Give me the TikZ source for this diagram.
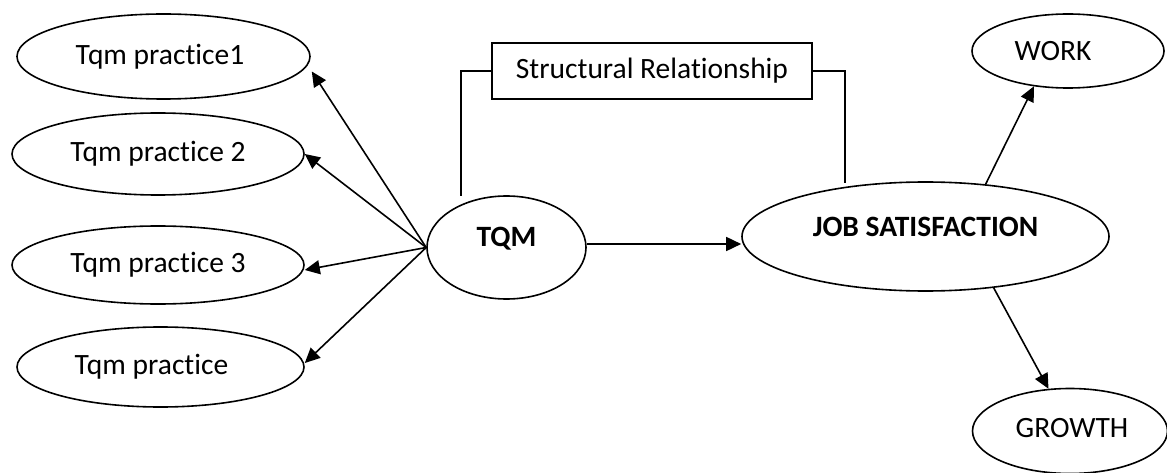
\documentclass[tikz,border=0pt]{standalone}
\usepackage{fontspec}
\setmainfont{Carlito}[Ligatures=CommonOff]
\usetikzlibrary{arrows.meta,shapes.geometric}

\begin{document}
\begin{tikzpicture}[x=1pt,y=-1pt,
  every node/.style={font=\fontsize{29.5}{34}\selectfont},
  ell/.style={draw=black, ellipse, line width=1.6pt, inner sep=0pt},
  txt/.style={font=\fontsize{29.5}{34}\selectfont, inner sep=0pt},
  boldtxt/.style={font=\fontsize{29.5}{34}\selectfont\bfseries, inner sep=0pt},
  boxnode/.style={draw=black, rectangle, line width=1.6pt, inner sep=0pt,
                  minimum width=320pt, minimum height=56pt},
  arr/.style={line width=1.6pt, -{Triangle[length=15pt,width=14pt]}},
  link/.style={line width=1.6pt}
]
\useasboundingbox (0,0) rectangle (1167,473);

% indicators of TQM
\node[ell, minimum width=293pt, minimum height=85pt,
      label={[txt, xshift=-3.5pt]center:Tqm practice1}] (p1) at (163.5,56.5) {};
\node[ell, minimum width=292pt, minimum height=82pt,
      label={[txt]center:Tqm practice 2}] (p2) at (158,154) {};
\node[ell, minimum width=292pt, minimum height=78pt,
      label={[txt]center:Tqm practice 3}] (p3) at (158,265) {};
\node[ell, minimum width=287pt, minimum height=80pt,
      label={[txt, xshift=-9pt]center:Tqm practice}] (p4) at (160.5,367) {};

% latent constructs
\node[ell, minimum width=159pt, minimum height=103pt,
      label={[boldtxt, yshift=9pt]center:TQM}] (tqm) at (506.5,247.5) {};
\node[ell, minimum width=367pt, minimum height=109pt,
      label={[boldtxt, yshift=10pt]center:JOB SATISFACTION}] (js) at (925.5,236.5) {};

% indicators of job satisfaction
\node[ell, minimum width=192pt, minimum height=74pt,
      label={[txt, xshift=-15pt]center:WORK}] (work) at (1068,51) {};
\node[ell, minimum width=195pt, minimum height=85pt,
      label={[txt, xshift=2pt, yshift=3pt]center:GROWTH}] (growth) at (1070,431) {};

% structural relationship bracket
\node[boxnode, txt] (sr) at (652,71) {Structural Relationship};
\coordinate (lend) at (461,196);
\coordinate (rend) at (845,183);
\draw[link] (sr.west) -| (lend);
\draw[link] (sr.east) -| (rend);

% arrows
\draw[arr] (tqm.west) -- ([shift={(1,15)}]p1.east);
\draw[arr] (tqm.west) -- (p2.east);
\draw[arr] (tqm.west) -- ([shift={(0,5)}]p3.east);
\draw[arr] (tqm.west) -- ([shift={(0,-4)}]p4.east);
\draw[arr] ([shift={(0,-3.5)}]tqm.east) -- ([shift={(0,7.5)}]js.west);
\draw[arr] (js.41) -- (work.-134);
\draw[arr] (js.-37) -- (growth.117);
\end{tikzpicture}
\end{document}
